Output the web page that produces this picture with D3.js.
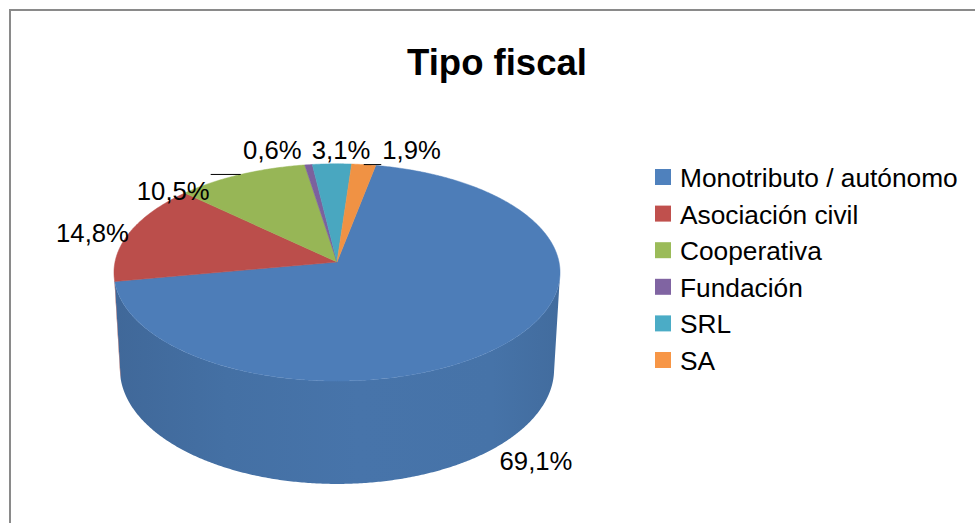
<!DOCTYPE html>
<html>
<head>
<meta charset="utf-8">
<script src="https://cdn.jsdelivr.net/npm/d3@7"></script>
<style>
  body { margin: 0; background: #fff; }
  text { font-family: "Liberation Sans", Arial, sans-serif; fill: #000; }
</style>
</head>
<body>
<div id="chart"></div>
<script>
var categories = ["Monotributo / autónomo", "Asociación civil", "Cooperativa", "Fundación", "SRL", "SA"]
var values = [69.1, 14.8, 10.5, 0.6, 3.1, 1.9]
var valueLabels = ["69,1%", "14,8%", "10,5%", "0,6%", "3,1%", "1,9%"]
var colors = ["#4F81BD", "#C0504D", "#9BBB59", "#8064A2", "#4BACC6", "#F79646"]

var W = 975, H = 523

// 3d pie geometry (perspective view, angles clockwise from 12 o'clock)
var geo = {cx: 337, cy: 262, r: 222, tilt: 29 * Math.PI / 180, dist: 9.1, depth: 0.51, firstSlice: 11}

// label placement: pixel nudges from the default outside anchor, and which get a leader line
var labelNudge = [[1, -3], [3, 6], [-50, 32], [-31, 3], [10, 4], [43, 3]]
var hasLeader = [false, false, true, false, false, true]

function project(theta, h, rad) {
    rad = rad == null ? 1 : rad
    var u = Math.sin(theta) * rad, v = -Math.cos(theta) * rad
    var yc = h * Math.cos(geo.tilt) - v * Math.sin(geo.tilt)
    var zc = h * Math.sin(geo.tilt) + v * Math.cos(geo.tilt)
    var s = geo.dist / (geo.dist - zc)
    return [geo.cx + geo.r * u * s, geo.cy - geo.r * yc * s]
}

function sample(a0, a1) {
    var n = Math.max(2, Math.ceil((a1 - a0) / (Math.PI / 360)))
    return d3.range(n + 1).map(function(i){ return a0 + (a1 - a0) * i / n })
}

var svg = d3.select("#chart").append("svg").attr("width", W).attr("height", H)

svg.append("rect").attr("x", 10).attr("y", 10).attr("width", 1000).attr("height", 600)
    .attr("fill", "#fff").attr("stroke", "#8a8a8a").attr("stroke-width", 2)

var a0 = geo.firstSlice * Math.PI / 180
var pie = d3.pie().sort(null).startAngle(a0).endAngle(a0 + 2 * Math.PI)
var arcs = pie(values)

// visible part of the side wall (normal facing the camera)
var vMin = 1 / (geo.dist * Math.cos(geo.tilt))
var visLo = Math.PI - Math.acos(vMin), visHi = Math.PI + Math.acos(vMin)

var defs = svg.append("defs")
var line = d3.line()

arcs.forEach(function(d, i){
    var g = defs.append("linearGradient").attr("id", "side" + i)
        .attr("gradientUnits", "userSpaceOnUse")
        .attr("x1", geo.cx - geo.r).attr("x2", geo.cx + geo.r).attr("y1", 0).attr("y2", 0)
    var c = d3.color(colors[i])
    var stops = [[0, 0.6], [0.25, 0.4], [0.55, 0.3], [0.85, 0.33], [1, 0.5]]
    stops.forEach(function(s){
        g.append("stop").attr("offset", s[0]).attr("stop-color", c.darker(s[1]).formatHex())
    })
})

// side walls
arcs.forEach(function(d, i){
    var lo = Math.max(d.startAngle, visLo), hi = Math.min(d.endAngle, visHi)
    if (hi <= lo) return
    var ts = sample(lo, hi)
    var pts = ts.map(function(t){ return project(t, 0) })
        .concat(ts.slice().reverse().map(function(t){ return project(t, -geo.depth) }))
    svg.append("path").attr("d", line(pts) + "Z").attr("fill", "url(#side" + i + ")")
})

// top faces
arcs.forEach(function(d, i){
    var pts = [project(0, 0, 0)].concat(sample(d.startAngle, d.endAngle).map(function(t){ return project(t, 0) }))
    svg.append("path").attr("d", line(pts) + "Z")
        .attr("fill", d3.color(colors[i]).darker(0.08).formatHex())
        .attr("stroke", d3.color(colors[i]).darker(0.08).formatHex()).attr("stroke-width", 0.5)
})

// data labels
var labelSize = 25.7
arcs.forEach(function(d, i){
    var mid = (d.startAngle + d.endAngle) / 2
    var front = -Math.cos(mid) > vMin
    var p = project(mid, front ? -geo.depth : 0, 1.2)
    var x = p[0] + labelNudge[i][0], y = p[1] + labelNudge[i][1]
    var t = svg.append("text").attr("x", x).attr("y", y + labelSize * 0.35)
        .attr("text-anchor", "middle").style("font-size", labelSize + "px").text(valueLabels[i])
    if (hasLeader[i]) {
        var w = t.node().getComputedTextLength()
        var rim = project(mid, 0)
        var edge = rim[0] < x ? x - w / 2 - 1 : x + w / 2 + 1
        svg.append("line").attr("x1", rim[0]).attr("y1", rim[1]).attr("x2", edge).attr("y2", rim[1])
            .attr("stroke", "#000").attr("stroke-width", 1)
    }
})

svg.append("text").attr("x", 497).attr("y", 75).attr("text-anchor", "middle")
    .style("font-size", "36.5px").style("font-weight", "bold").text("Tipo fiscal")

var legend = svg.selectAll(".legend").data(categories).enter().append("g")
    .attr("class", "legend")
    .attr("transform", function(d, i){ return "translate(655," + (169 + i * 36.6) + ")" })
legend.append("rect").attr("width", 16).attr("height", 16).attr("fill", function(d, i){ return colors[i] })
legend.append("text").attr("x", 25).attr("y", 18).style("font-size", "26.3px").text(function(d){ return d })
</script>
</body>
</html>
